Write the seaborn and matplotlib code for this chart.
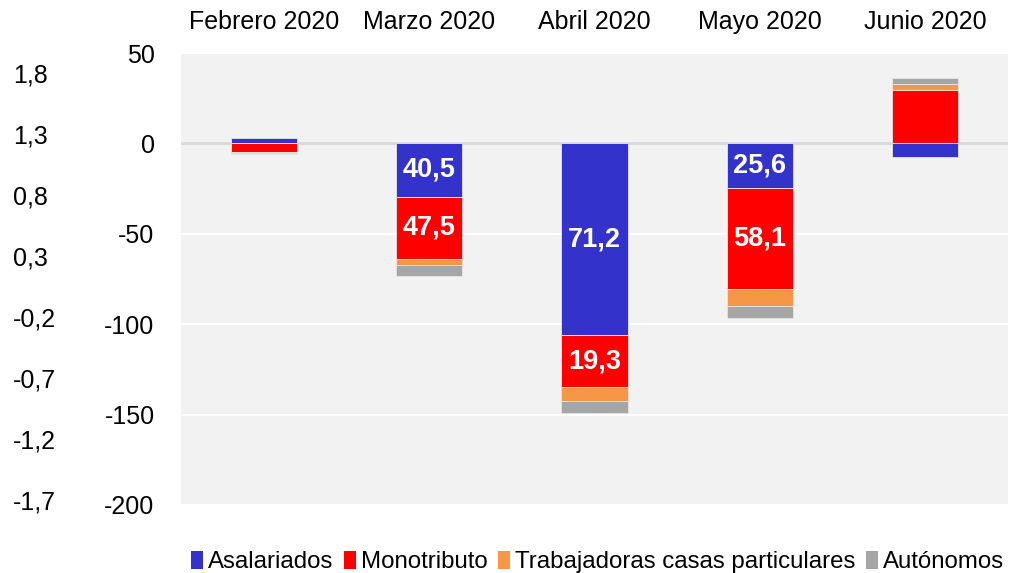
import numpy as np
import matplotlib
matplotlib.use("Agg")
import matplotlib.pyplot as plt
from matplotlib.patches import Patch
import seaborn as sns

# datos (estimados del grafico original)
meses = ["Febrero 2020", "Marzo 2020", "Abril 2020", "Mayo 2020", "Junio 2020"]
asalariados = [3.0, -29.4, -105.8, -24.5, -7.5]
monotributo = [-4.5, -34.7, -29.2, -56.0, 29.7]
casas_particulares = [-1.0, -2.9, -7.5, -9.5, 3.3]
autonomos = [-0.4, -6.3, -6.8, -6.4, 3.1]

etiq_asalariados = ["", "40,5", "71,2", "25,6", ""]
etiq_monotributo = ["", "47,5", "19,3", "58,1", ""]

series = ["Asalariados", "Monotributo", "Trabajadoras casas particulares", "Autónomos"]
colores = ["#3333CC", "#FF0000", "#F79646", "#A6A6A6"]

ticks_izq = [50, 0, -50, -100, -150, -200]
ticks_sec = [1.8, 1.3, 0.8, 0.3, -0.2, -0.7, -1.2, -1.7]

sns.set_style("white")
plt.rcParams["font.family"] = ["Liberation Sans", "DejaVu Sans"]
plt.rcParams["text.color"] = "black"
plt.rcParams["xtick.color"] = "black"
plt.rcParams["ytick.color"] = "black"

fig = plt.figure(figsize=(10.11, 5.73), dpi=100)
ax = fig.add_axes([0.179, 0.1187, 0.818, 0.7888])
ax.set_facecolor("#F2F2F2")

# apilado con positivos hacia arriba y negativos hacia abajo
pos = np.zeros(len(meses))
neg = np.zeros(len(meses))
contenedores = []
for vals, col in zip([asalariados, monotributo, casas_particulares, autonomos], colores):
    vals = np.array(vals)
    base = np.where(vals >= 0, pos, neg)
    sns.barplot(x=meses, y=vals, bottom=base, color=col, width=0.4, ax=ax,
                edgecolor="#E6E6E6", linewidth=0.6, zorder=3, saturation=1)
    contenedores.append(ax.containers[-1])
    pos = pos + np.where(vals >= 0, vals, 0)
    neg = neg + np.where(vals < 0, vals, 0)

ax.bar_label(contenedores[0], labels=etiq_asalariados, label_type="center",
             color="white", fontsize=19.5, fontweight="bold")
ax.bar_label(contenedores[1], labels=etiq_monotributo, label_type="center",
             color="white", fontsize=19.5, fontweight="bold")

ax.set_ylim(-200, 50)
ax.set_xlim(-0.5, 4.5)
ax.set_yticks(ticks_izq)
ax.set_yticklabels([str(t) for t in ticks_izq])
ax.yaxis.grid(True, color="white", linewidth=1.5, zorder=0)
ax.set_axisbelow(True)
ax.axhline(0, color="#D9D9D9", linewidth=2, zorder=2)
ax.tick_params(axis="y", length=0, pad=19, labelsize=18)

ax.xaxis.tick_top()
ax.tick_params(axis="x", length=0, pad=14, labelsize=18)
ax.set_xlabel("")
ax.set_ylabel("")
for s in ax.spines.values():
    s.set_visible(False)

# eje secundario, ubicado a la izquierda
ax2 = ax.twinx()
ax2.set_ylim(-1.741, 1.964)
ax2.set_yticks(ticks_sec)
ax2.set_yticklabels([f"{t:.1f}".replace(".", ",") for t in ticks_sec])
ax2.yaxis.set_ticks_position("left")
ax2.yaxis.set_label_position("left")
ax2.tick_params(axis="y", length=0, pad=121, labelsize=18)
for lab in ax2.get_yticklabels():
    lab.set_horizontalalignment("left")
for s in ax2.spines.values():
    s.set_visible(False)

handles = [Patch(facecolor=c, edgecolor="none") for c in colores]
fig.legend(handles, series, loc="lower center", bbox_to_anchor=(0.591, -0.038), ncol=4,
           frameon=False, fontsize=17.3, handlelength=0.5, handleheight=0.75,
           handletextpad=0.2, columnspacing=0.45)

fig.savefig("out.png", dpi=100)
